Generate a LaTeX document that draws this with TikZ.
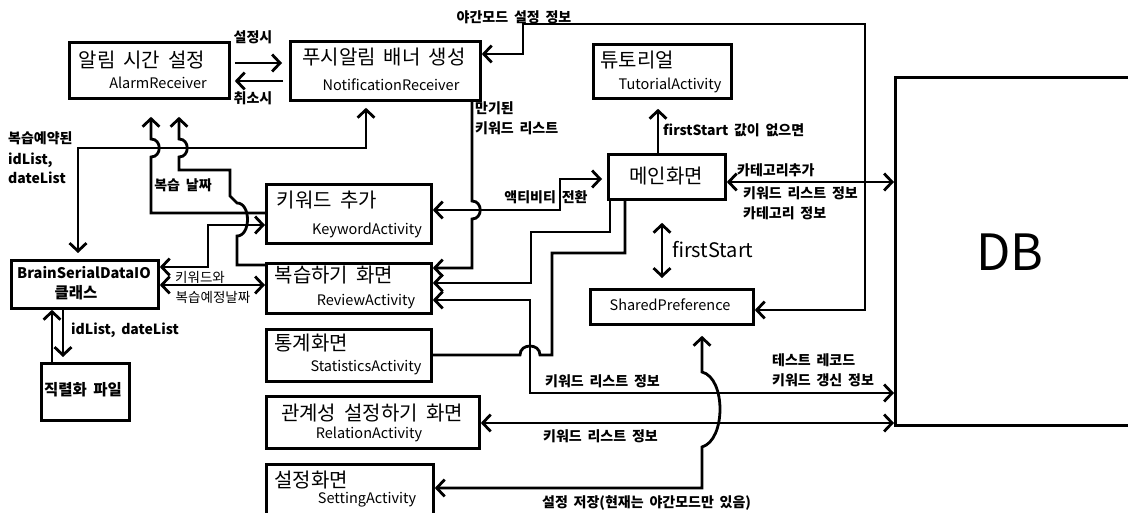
\documentclass[tikz,border=0pt]{standalone}
\usepackage{fontspec}
\setmainfont{Noto Sans CJK KR}[WordSpace=1.8]
\usetikzlibrary{arrows.meta}
\tikzset{
  box/.style={draw=black, line width=2.8pt, inner sep=0pt, rectangle, anchor=north west},
  ln/.style={draw=black, line width=2.8pt},
  ttl/.style={font=\fontsize{20}{22}\selectfont, inner sep=0pt},
  sub/.style={font=\fontsize{14.5}{16}\selectfont, inner sep=0pt},
  lbl/.style={font=\fontsize{14}{16}\selectfont\bfseries, inner sep=0pt},
  lblr/.style={font=\fontsize{13.5}{15}\selectfont, inner sep=0pt},
}
\begin{document}
\begin{tikzpicture}[x=1pt,y=-1pt,>={Straight Barb[length=8pt,width=17pt]}]
\fill[white] (0,0) rectangle (1128,513);
\useasboundingbox (0,0) rectangle (1128,513);
% boxes
\node[box, minimum width=160pt, minimum height=56pt] (alarm) at (68,41) {};
\node[box, minimum width=190pt, minimum height=59pt] (notif) at (289,40) {};
\node[box, minimum width=138pt, minimum height=54pt] (tut) at (592,43) {};
\node[box, minimum width=117pt, minimum height=45pt] (main) at (607,153) {};
\node[box, minimum width=165pt, minimum height=59pt] (keyw) at (265,183) {};
\node[box, minimum width=165pt, minimum height=50pt] (review) at (265,262) {};
\node[box, minimum width=165pt, minimum height=52pt] (stats) at (265,328) {};
\node[box, minimum width=213pt, minimum height=52pt] (rel) at (265,395) {};
\node[box, minimum width=167pt, minimum height=70pt] (setting) at (265,463) {};
\node[box, minimum width=163pt, minimum height=35pt] (shared) at (589,288) {};
\node[box, minimum width=147pt, minimum height=48pt] (brain) at (10,259) {};
\node[box, minimum width=88pt, minimum height=57pt] (serial) at (40,362) {};
\node[box, minimum width=260pt, minimum height=348pt] (db) at (894,76) {};
% box texts
\node[ttl] (alarmT) at (142,60) {알림 시간 설정};
\node[sub] (alarmS) at (158,83) {AlarmReceiver};
\node[ttl] (notifT) at (384,57) {푸시알림 배너 생성};
\node[sub] (notifS) at (391,85) {NotificationReceiver};
\node[ttl] (tutT) at (637,60) {튜토리얼};
\node[sub] (tutS) at (670,85) {TutorialActivity};
\node[ttl] (mainT) at (666,176) {메인화면};
\node[ttl] (keywT) at (327,200) {키워드 추가};
\node[sub] (keywS) at (367,230) {KeywordActivity};
\node[ttl] (reviewT) at (334,275) {복습하기 화면};
\node[sub] (reviewS) at (366,302) {ReviewActivity};
\node[ttl] (statsT) at (311,343) {통계화면};
\node[sub] (statsS) at (366,368) {StatisticsActivity};
\node[ttl] (relT) at (372,413) {관계성 설정하기 화면};
\node[sub] (relS) at (369,434) {RelationActivity};
\node[ttl] (settingT) at (311,480) {설정화면};
\node[sub] (settingS) at (367,500) {SettingActivity};
\node[sub] (sharedT) at (670,305) {SharedPreference};
\node[font=\fontsize{14.6}{17}\selectfont\bfseries, inner sep=0pt] (brainT1) at (84,273) {BrainSerialDataIO};
\node[font=\fontsize{15.5}{17}\selectfont\bfseries, inner sep=0pt] (brainT2) at (76,293) {클래스};
\node[font=\fontsize{15.5}{18}\selectfont\bfseries, inner sep=0pt] (serialT) at (83,390) {직렬화 파일};
\node[font=\fontsize{50}{56}\selectfont, inner sep=0pt] (dbT) at (1010,252) {DB};
% labels
\node[lbl] (l1) at (253,37) {설정시};
\node[lbl] (l2) at (253,98) {취소시};
\node[lbl] (l3) at (514,17) {야간모드 설정 정보};
\node[lbl, anchor=west] (l4) at (475,108) {만기된};
\node[lbl, anchor=west] (l5) at (475,128) {키워드 리스트};
\node[lbl, anchor=west] (l6) at (663,130) {firstStart 값이 없으면};
\node[lbl, anchor=west] (l7) at (737,170) {카테고리추가};
\node[lbl, anchor=west] (l8) at (743,193) {키워드 리스트 정보};
\node[lbl, anchor=west] (l9) at (743,213) {카테고리 정보};
\node[font=\fontsize{20}{22}\selectfont, inner sep=0pt, anchor=west] (l10) at (672,250) {firstStart};
\node[lbl] (l11) at (546,197) {액티비티 전환};
\node[lbl] (l12) at (183,185) {복습 날짜};
\node[lbl, anchor=west] (l13) at (8,138) {복습예약된};
\node[lbl, anchor=west] (l14) at (8,160) {idList,};
\node[lbl, anchor=west] (l15) at (8,178) {dateList};
\node[lblr] (l16) at (200,277) {키워드와};
\node[lblr] (l17) at (213,297) {복습예정날짜};
\node[lbl, anchor=west] (l18) at (71,330) {idList, dateList};
\node[lbl, anchor=west] (l19) at (772,360) {테스트 레코드};
\node[lbl, anchor=west] (l20) at (772,380) {키워드 갱신 정보};
\node[lbl, anchor=west] (l21) at (545,381) {키워드 리스트 정보};
\node[lbl, anchor=west] (l22) at (543,436) {키워드 리스트 정보};
\node[lbl, anchor=west] (l23) at (542,503) {설정 저장(현재는 야간모드만 있음)};
% connectors
\draw[ln,->,shorten <=4pt,shorten >=7pt] (alarm.east |- 0,63) -- (notif.west |- 0,63);
\draw[ln,->,shorten <=6pt,shorten >=4pt] (notif.west |- 0,81) -- (alarm.east |- 0,81);
\draw[ln,<->] (notif.east |- 0,54) -- (523,54) -- (523,24) -- (865,24) -- (865,310) -- (shared.east |- 0,310);
\draw[ln,->] (notif.south -| 472,0) -- (472,201) .. controls (483,201) and (483,219) .. (472,219) -- (472,268) -- (review.east |- 0,268);
\draw[ln,<->,shorten >=5pt] (keyw.east |- 0,210) -- (560,210) -- (560,179) -- (main.west |- 0,179);
\draw[ln,->] (main.south -| 610,0) -- (610,232) -- (531,232) -- (531,283) -- (review.east |- 0,283);
\draw[ln] (main.south -| 625,0) -- (625,253) -- (552,253) -- (552,355) -- (540,355) .. controls (540,343) and (520,343) .. (520,355) -- (stats.east |- 0,355);
\draw[ln,<->] (review.east |- 0,300) -- (530,300) -- (530,393) -- (db.west |- 0,393);
\draw[ln,<->] (rel.east |- 0,423) -- (db.west |- 0,423);
\draw[ln,<->] (main.east |- 0,182) -- (db.west |- 0,182);
\draw[ln,<->,shorten >=10pt] (setting.east |- 0,488) -- (702,488) -- (702,447) .. controls (726,440) and (726,378) .. (702,372) -- (shared.south -| 702,0);
\draw[ln,<->,shorten <=22pt,shorten >=10pt] (main.south -| 662,0) -- (shared.north -| 662,0);
\draw[ln,->,shorten >=9pt] (main.north -| 658,0) -- (tut.south -| 658,0);
\draw[ln,<->,shorten <=6pt,shorten >=6pt] (brain.north -| 78,0) -- (78,148) -- (366,148) -- (notif.south -| 366,0);
\draw[ln,->,shorten >=17pt] (keyw.west |- 0,213) -- (151,213) -- (151,157) .. controls (162,157) and (162,139) .. (151,139) -- (alarm.south -| 151,0);
\draw[ln,->,shorten >=17pt] (review.west |- 0,265) -- (237,265) -- (237,236) .. controls (251,236) and (251,203) .. (237,203) -- (230,196) -- (230,170) -- (179,170) -- (179,157) .. controls (190,157) and (190,139) .. (179,139) -- (alarm.south -| 179,0);
\draw[ln,<->] (brain.east |- 0,267) -- (208,267) -- (208,225) -- (keyw.west |- 0,225);
\draw[ln,<->] (brain.east |- 0,285) -- (review.west |- 0,285);
\draw[ln,->] (serial.north -| 52,0) -- (brain.south -| 52,0);
\draw[ln,->,shorten >=5pt] (brain.south -| 63,0) -- (serial.north -| 63,0);
\end{tikzpicture}
\end{document}
